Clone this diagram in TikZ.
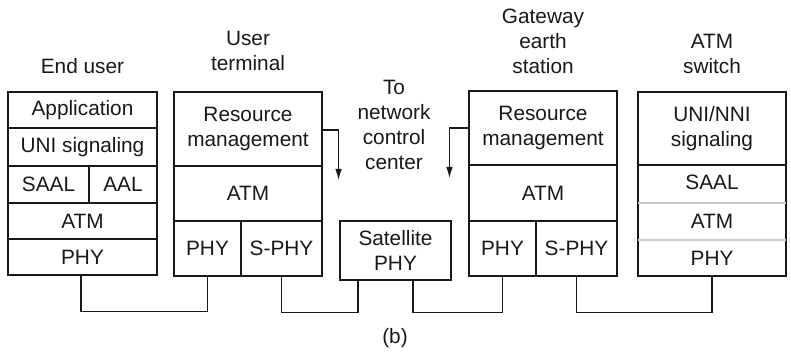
\documentclass[tikz,border=0pt]{standalone}
\usepackage{fontspec}
\setmainfont{Liberation Sans}
\usetikzlibrary{arrows.meta}
\definecolor{ink}{gray}{0.1}
\begin{document}
\begin{tikzpicture}[x=1pt,y=-1pt,
  every node/.style={font=\fontsize{20.8}{25}\selectfont, text=ink, inner sep=0pt, align=center},
  cell/.style={draw=ink, line width=1.1pt, rectangle},
  plain/.style={rectangle},
  wire/.style={draw=ink, line width=1.1pt},
  tip/.style={wire, -{Latex[length=11pt,width=6.5pt]}},
  sep/.style={draw=gray!40, line width=1.1pt}]
\useasboundingbox (0,0) rectangle (791,355);
% End user
\node[cell, minimum width=149, minimum height=36] (eapp) at (82.5,110) {Application};
\node[cell, minimum width=149, minimum height=38] (euni) at (82.5,147) {UNI signaling};
\node[cell, minimum width=81, minimum height=37] (esaal) at (48.5,184.5) {SAAL};
\node[cell, minimum width=68, minimum height=37] (eaal) at (123,184.5) {AAL};
\node[cell, minimum width=149, minimum height=36] (eatm) at (82.5,221) {ATM};
\node[cell, minimum width=149, minimum height=36] (ephy) at (82.5,257) {PHY};
\node (lend) at (82.5,66) {End user};
% User terminal
\node[cell, minimum width=148, minimum height=74] (urm) at (248,129) {Resource\\management};
\node[cell, minimum width=148, minimum height=55] (uatm) at (248,193.5) {ATM};
\node[cell, minimum width=67, minimum height=55] (uphy) at (207.5,248.5) {PHY};
\node[cell, minimum width=81, minimum height=55] (usphy) at (281.5,248.5) {S-PHY};
\node (lut) at (248,51) {User\\terminal};
% Network control center
\node (lncc) at (394,125) {To\\network\\control\\center};
\node[cell, minimum width=111, minimum height=59] (sat) at (395.5,250.5) {Satellite\\PHY};
% Gateway
\node[cell, minimum width=148, minimum height=74] (grm) at (543,128) {Resource\\management};
\node[cell, minimum width=148, minimum height=56] (gatm) at (543,193) {ATM};
\node[cell, minimum width=67, minimum height=55] (gphy) at (502.5,248.5) {PHY};
\node[cell, minimum width=81, minimum height=55] (gsphy) at (576.5,248.5) {S-PHY};
\node (lgw) at (543,41) {Gateway\\earth\\station};
% ATM switch
\node[cell, minimum width=148, minimum height=184] (sw) at (712,184) {};
\node[plain, minimum width=148, minimum height=73] (ssig) at (712,128.5) {UNI/NNI\\signaling};
\node[plain, minimum width=148, minimum height=38] (ssaal) at (712,182) {SAAL};
\node[plain, minimum width=148, minimum height=37] (satm) at (712,221.5) {ATM};
\node[plain, minimum width=148, minimum height=36] (sphy) at (712,258) {PHY};
\node (lsw) at (712,54) {ATM\\switch};
\draw[wire] (712-74,165) coordinate (sa) -- (712+74,165) coordinate (sb);
\draw[sep] (712-74,203) coordinate (sc) -- (712+74,203) coordinate (sd);
\draw[sep] (712-74,240) coordinate (se) -- (712+74,240) coordinate (sf);
\node (lb) at (395,338) {(b)};
% connectors
\draw[wire] ([xshift=-1.5pt]ephy.south) -- ++(0,36) -| (uphy.south);
\draw[wire] (usphy.south) -- ++(0,36) -| ([xshift=-37.5pt]sat.south);
\draw[wire] ([xshift=17.5pt]sat.south) -- ++(0,32) -| (gphy.south);
\draw[wire] (gsphy.south) -- ++(0,36) -| (sphy.south);
\draw[tip] ([yshift=-1pt]urm.east) -- ++(16,0) -- ++(0,50);
\draw[tip] (grm.west) -- ++(-19,0) -- ++(0,50);
\end{tikzpicture}
\end{document}
